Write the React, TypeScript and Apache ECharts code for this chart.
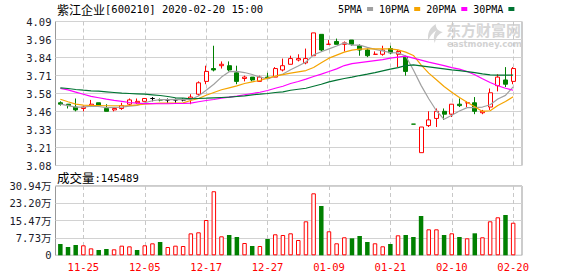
import React, { useEffect, useRef } from 'react';
import * as echarts from 'echarts';

const dates = [
  '2019-11-20', '2019-11-21', '2019-11-22', '2019-11-25', '2019-11-26', '2019-11-27', '2019-11-28', '2019-11-29', '2019-12-02', '2019-12-03',
  '2019-12-04', '2019-12-05', '2019-12-06', '2019-12-09', '2019-12-10', '2019-12-11', '2019-12-12', '2019-12-13', '2019-12-16', '2019-12-17',
  '2019-12-18', '2019-12-19', '2019-12-20', '2019-12-23', '2019-12-24', '2019-12-25', '2019-12-26', '2019-12-27', '2019-12-30', '2019-12-31',
  '2020-01-02', '2020-01-03', '2020-01-06', '2020-01-07', '2020-01-08', '2020-01-09', '2020-01-10', '2020-01-13', '2020-01-14', '2020-01-15',
  '2020-01-16', '2020-01-17', '2020-01-20', '2020-01-21', '2020-01-22', '2020-01-23', '2020-02-03', '2020-02-04', '2020-02-05', '2020-02-06',
  '2020-02-07', '2020-02-10', '2020-02-11', '2020-02-12', '2020-02-13', '2020-02-14', '2020-02-17', '2020-02-18', '2020-02-19', '2020-02-20',
];

const opens = [
  3.52, 3.51, 3.49, 3.48, 3.50, 3.52, 3.48, 3.47, 3.48, 3.51,
  3.52, 3.53, 3.55, 3.54, 3.54, 3.54, 3.54, 3.55, 3.58, 3.67,
  3.76, 3.78, 3.78, 3.73, 3.69, 3.70, 3.67, 3.70, 3.70, 3.75,
  3.79, 3.82, 3.80, 3.85, 4.00, 3.93, 3.95, 3.93, 3.96, 3.92,
  3.89, 3.86, 3.86, 3.90, 3.86, 3.84, 3.37, 3.17, 3.36, 3.41,
  3.46, 3.44, 3.51, 3.52, 3.52, 3.45, 3.49, 3.64, 3.68, 3.67,
];
const closes = [
  3.51, 3.50, 3.47, 3.49, 3.51, 3.50, 3.46, 3.48, 3.50, 3.54,
  3.53, 3.55, 3.55, 3.54, 3.54, 3.54, 3.54, 3.56, 3.66, 3.74,
  3.75, 3.79, 3.75, 3.67, 3.70, 3.68, 3.70, 3.69, 3.76, 3.78,
  3.83, 3.83, 3.83, 4.01, 3.89, 3.93, 3.93, 3.94, 3.93, 3.89,
  3.85, 3.86, 3.89, 3.87, 3.88, 3.74, 3.37, 3.35, 3.40, 3.46,
  3.44, 3.51, 3.50, 3.52, 3.46, 3.46, 3.59, 3.70, 3.65, 3.76,
];
const lows = [
  3.50, 3.48, 3.46, 3.46, 3.49, 3.49, 3.46, 3.46, 3.47, 3.50,
  3.51, 3.53, 3.53, 3.53, 3.52, 3.52, 3.53, 3.51, 3.57, 3.65,
  3.74, 3.76, 3.74, 3.65, 3.67, 3.67, 3.67, 3.69, 3.70, 3.74,
  3.79, 3.81, 3.79, 3.85, 3.88, 3.93, 3.93, 3.88, 3.92, 3.85,
  3.84, 3.86, 3.85, 3.86, 3.77, 3.71, 3.37, 3.17, 3.35, 3.35,
  3.40, 3.42, 3.49, 3.49, 3.44, 3.44, 3.47, 3.60, 3.63, 3.65,
];
const highs = [
  3.53, 3.51, 3.55, 3.50, 3.54, 3.52, 3.51, 3.48, 3.52, 3.55,
  3.55, 3.55, 3.56, 3.55, 3.55, 3.55, 3.55, 3.58, 3.67, 3.78,
  3.92, 3.81, 3.81, 3.78, 3.71, 3.70, 3.71, 3.73, 3.77, 3.83,
  3.85, 3.86, 3.90, 4.01, 4.00, 3.96, 3.97, 3.95, 3.96, 3.93,
  3.90, 3.88, 3.92, 3.92, 3.89, 3.85, 3.37, 3.35, 3.46, 3.48,
  3.48, 3.51, 3.55, 3.53, 3.56, 3.47, 3.62, 3.72, 3.77, 3.77,
];
const volumes = [
  50400, 37000, 46000, 44600, 31000, 23700, 28100, 26800, 43000, 40000,
  23700, 44600, 53500, 59400, 37000, 43000, 41500, 98000, 102700, 157600,
  286000, 84800, 90600, 81700, 54900, 41500, 41500, 72800, 93800, 90600,
  98200, 68300, 151800, 276800, 220100, 107200, 53600, 80400, 75900, 86200,
  59400, 53600, 40200, 50500, 89300, 90600, 81700, 175500, 116000, 116000,
  90600, 98200, 81700, 75900, 98200, 80400, 151800, 169700, 180000, 145489,
];
const ma5 = [
  3.51, 3.50, 3.49, 3.49, 3.496, 3.494, 3.486, 3.488, 3.49, 3.496,
  3.502, 3.52, 3.534, 3.542, 3.542, 3.544, 3.542, 3.544, 3.568, 3.608,
  3.65, 3.70, 3.738, 3.74, 3.732, 3.718, 3.70, 3.688, 3.706, 3.722,
  3.752, 3.778, 3.806, 3.856, 3.878, 3.898, 3.918, 3.94, 3.924, 3.924,
  3.908, 3.894, 3.884, 3.872, 3.87, 3.848, 3.75, 3.642, 3.548, 3.464,
  3.404, 3.432, 3.462, 3.486, 3.486, 3.49, 3.506, 3.546, 3.572, 3.632,
];
const ma10 = [
  3.545, 3.527, 3.51, 3.503, 3.501, 3.501, 3.499, 3.499, 3.499, 3.501,
  3.505, 3.51, 3.514, 3.517, 3.518, 3.518, 3.519, 3.536, 3.55, 3.573,
  3.592, 3.611, 3.625, 3.639, 3.655, 3.667, 3.676, 3.693, 3.707, 3.718,
  3.728, 3.737, 3.746, 3.767, 3.80, 3.833, 3.854, 3.875, 3.889, 3.896,
  3.898, 3.898, 3.898, 3.898, 3.891, 3.875, 3.852, 3.786, 3.728, 3.681,
  3.634, 3.594, 3.557, 3.524, 3.492, 3.459, 3.464, 3.501, 3.529, 3.562,
];
const ma20 = [
  3.62, 3.61, 3.595, 3.58, 3.565, 3.555, 3.545, 3.537, 3.53, 3.522,
  3.517, 3.514, 3.514, 3.513, 3.513, 3.515, 3.515, 3.517, 3.527, 3.536,
  3.543, 3.552, 3.559, 3.566, 3.576, 3.585, 3.594, 3.606, 3.622, 3.636,
  3.655, 3.669, 3.686, 3.704, 3.721, 3.739, 3.758, 3.781, 3.795, 3.802,
  3.809, 3.816, 3.823, 3.833, 3.84, 3.847, 3.833, 3.819, 3.805, 3.793,
  3.781, 3.767, 3.756, 3.739, 3.716, 3.688, 3.662, 3.639, 3.622, 3.608,
];
const ma30 = [
  3.625, 3.62, 3.613, 3.608, 3.604, 3.601, 3.597, 3.592, 3.587, 3.585,
  3.583, 3.58, 3.576, 3.571, 3.564, 3.555, 3.552, 3.548, 3.55, 3.552,
  3.555, 3.557, 3.559, 3.564, 3.569, 3.576, 3.58, 3.585, 3.592, 3.597,
  3.608, 3.615, 3.622, 3.636, 3.65, 3.667, 3.679, 3.69, 3.70, 3.711,
  3.721, 3.732, 3.744, 3.756, 3.767, 3.781, 3.786, 3.779, 3.772, 3.765,
  3.758, 3.751, 3.746, 3.739, 3.732, 3.723, 3.716, 3.714, 3.714, 3.714,
];

const priceTicks = ['3.08', '3.21', '3.33', '3.46', '3.58', '3.71', '3.84', '3.96', '4.09'];
const dateTicks = ['11-25', '12-05', '12-17', '12-27', '01-09', '01-21', '02-10', '02-20'];
const maNames = ['5PMA', '10PMA', '20PMA', '30PMA'];
const maColors = ['#a0a0a0', '#f5a400', '#ff00ff', '#007433'];

const UP = '#ff0000';
const DOWN = '#008000';
const FLAT = '#000000';
const MONO = 'DejaVu Sans Mono, Noto Sans CJK SC';
const CJK = 'Noto Sans CJK SC';

let logoRegistered = false;
function registerLogo() {
  if (logoRegistered) return;
  logoRegistered = true;
  const d = 'M13 0 C7 4 3 10 5 19 C6 14 9 10 14 7 C11 11 10 15 12 21 C13 15 16 11 21 9 C16 8 13 5 13 0 Z';
  echarts.graphic.registerShape('emlogo', echarts.graphic.extendPath(d, {}) as any);
}

export default function App() {
  const ref = useRef<HTMLDivElement>(null);

  useEffect(() => {
    registerLogo();
    const chart = echarts.init(ref.current!, null, { renderer: 'svg' });

    const labels = dates.map((d) => d.slice(5));
    const markSet = new Set(dateTicks);
    const isMark = (index: number) => markSet.has(labels[index]);

    const candleData = opens.map((o, i) => {
      const c = closes[i];
      const item: any = { value: [o, c, lows[i], highs[i]] };
      if (o === c) {
        const prev = i > 0 ? closes[i - 1] : c;
        const col = c > prev ? UP : c < prev ? DOWN : FLAT;
        item.itemStyle = { color: col, color0: col, borderColor: col, borderColor0: col, borderColorDoji: col };
      }
      return item;
    });

    const volData = volumes.map((v, i) => {
      const up = i === 0 ? closes[0] >= opens[0] : closes[i] >= closes[i - 1];
      return {
        value: v,
        itemStyle: up
          ? { color: '#ffffff', borderColor: UP, borderWidth: 1 }
          : { color: DOWN, borderColor: DOWN, borderWidth: 0 },
      };
    });

    const maData = [ma5, ma10, ma20, ma30];

    const dataLeft = 56.5;
    const dataRight = 61;
    const frameLeft = 55.5;
    const frameRight = 56;
    const pTop = 21.5;
    const pHeight = 144;
    const vTop = 186;
    const vHeight = 69.3;

    const catAxisBase = {
      type: 'category',
      data: labels,
      boundaryGap: true,
      axisLine: { show: false },
      axisTick: { show: false },
      splitLine: {
        show: true,
        interval: isMark,
        alignWithLabel: true,
        lineStyle: { color: '#c8c8c8', type: [4, 3], width: 1 },
      },
    };

    const option: any = {
      animation: false,
      backgroundColor: '#ffffff',
      legend: {
        data: maNames,
        left: 338,
        top: 4,
        padding: 0,
        align: 'right',
        icon: 'rect',
        itemWidth: 6,
        itemHeight: 4,
        itemGap: 6,
        selectedMode: false,
        textStyle: { fontFamily: MONO, fontSize: 10, color: '#000' },
      },
      grid: [
        { left: dataLeft, right: dataRight, top: pTop, height: pHeight },
        { left: dataLeft, right: dataRight, top: vTop, height: vHeight },
        { left: frameLeft, right: frameRight, top: pTop, height: pHeight, show: true, borderColor: '#999999', borderWidth: 1 },
        { left: frameLeft, right: frameRight, top: vTop, height: vHeight, show: true, borderColor: '#999999', borderWidth: 1 },
      ],
      xAxis: [
        { ...catAxisBase, gridIndex: 0, axisLabel: { show: false } },
        {
          ...catAxisBase,
          gridIndex: 1,
          axisLabel: {
            show: true,
            interval: isMark,
            color: UP,
            fontFamily: MONO,
            fontSize: 10.5,
            margin: 6,
          },
        },
        { type: 'value', gridIndex: 2, show: false },
        { type: 'value', gridIndex: 3, show: false },
      ],
      yAxis: [
        { type: 'value', gridIndex: 0, min: 3.08, max: 4.09, show: false },
        { type: 'value', gridIndex: 1, min: 0, max: 309400, show: false },
        {
          type: 'category',
          gridIndex: 2,
          data: priceTicks,
          boundaryGap: false,
          axisLine: { show: false },
          axisTick: { show: false },
          axisLabel: { interval: 0, color: '#1a1a2a', fontFamily: MONO, fontSize: 10.5, margin: 4 },
          splitLine: { show: true, interval: 0, lineStyle: { color: '#d2d2d2', width: 1 } },
        },
        {
          type: 'value',
          gridIndex: 3,
          min: 0,
          max: 309400,
          interval: 77350,
          axisLine: { show: false },
          axisTick: { show: false },
          axisLabel: {
            color: '#1a1a2a',
            fontFamily: MONO,
            fontSize: 10.5,
            margin: 4,
            formatter: (v: number) => (v === 0 ? '0' : (Math.floor(v / 100) / 100).toFixed(2) + '万'),
          },
          splitLine: { show: true, lineStyle: { color: '#d2d2d2', width: 1 } },
        },
      ],
      graphic: [
        {
          type: 'group',
          z: -1,
          silent: true,
          children: [
            { type: 'emlogo', x: 424, y: 24, scaleX: 0.9, scaleY: 0.9, style: { fill: '#d6d6d6' } },
            {
              type: 'text',
              x: 446,
              y: 22,
              style: { text: '东方财富网', fontFamily: CJK, fontSize: 15, fontWeight: 'bold', fill: '#d6d6d6' },
            },
            {
              type: 'text',
              x: 447,
              y: 39,
              style: { text: 'eastmoney.com', fontFamily: 'DejaVu Sans', fontSize: 8.5, fontWeight: 'bold', fill: '#d2d2d2' },
            },
          ],
        },
        {
          type: 'text',
          x: 57,
          y: 2,
          style: {
            text: '{c|紫江企业}{a|[600210] 2020-02-20 15:00}',
            rich: {
              c: { fontFamily: CJK, fontSize: 12, fill: '#000', lineHeight: 14 },
              a: { fontFamily: MONO, fontSize: 10.5, fill: '#000', lineHeight: 14 },
            },
          },
        },
        {
          type: 'text',
          x: 57,
          y: 170,
          style: {
            text: `{c|成交量}{a|:${volumes[volumes.length - 1]}}`,
            rich: {
              c: { fontFamily: CJK, fontSize: 12.5, fill: '#000', lineHeight: 15 },
              a: { fontFamily: MONO, fontSize: 10.5, fill: '#000', lineHeight: 15 },
            },
          },
        },
      ],
      series: [
        {
          name: 'K',
          type: 'candlestick',
          xAxisIndex: 0,
          yAxisIndex: 0,
          barWidth: 4.5,
          data: candleData,
          itemStyle: {
            color: '#ffffff',
            color0: DOWN,
            borderColor: UP,
            borderColor0: DOWN,
            borderColorDoji: FLAT,
            borderWidth: 1,
          },
        },
        ...maNames.map((name, k) => ({
          name,
          type: 'line',
          xAxisIndex: 0,
          yAxisIndex: 0,
          data: maData[k],
          color: maColors[k],
          showSymbol: false,
          symbol: 'none',
          lineStyle: { color: maColors[k], width: 1.2 },
          z: 3,
        })),
        {
          name: 'VOL',
          type: 'bar',
          xAxisIndex: 1,
          yAxisIndex: 1,
          barWidth: 4.5,
          data: volData,
        },
      ],
    };

    chart.setOption(option);
    return () => chart.dispose();
  }, []);

  return <div ref={ref} style={{ position: 'absolute', left: 0, top: 0, width: 578, height: 276 }} />;
}
